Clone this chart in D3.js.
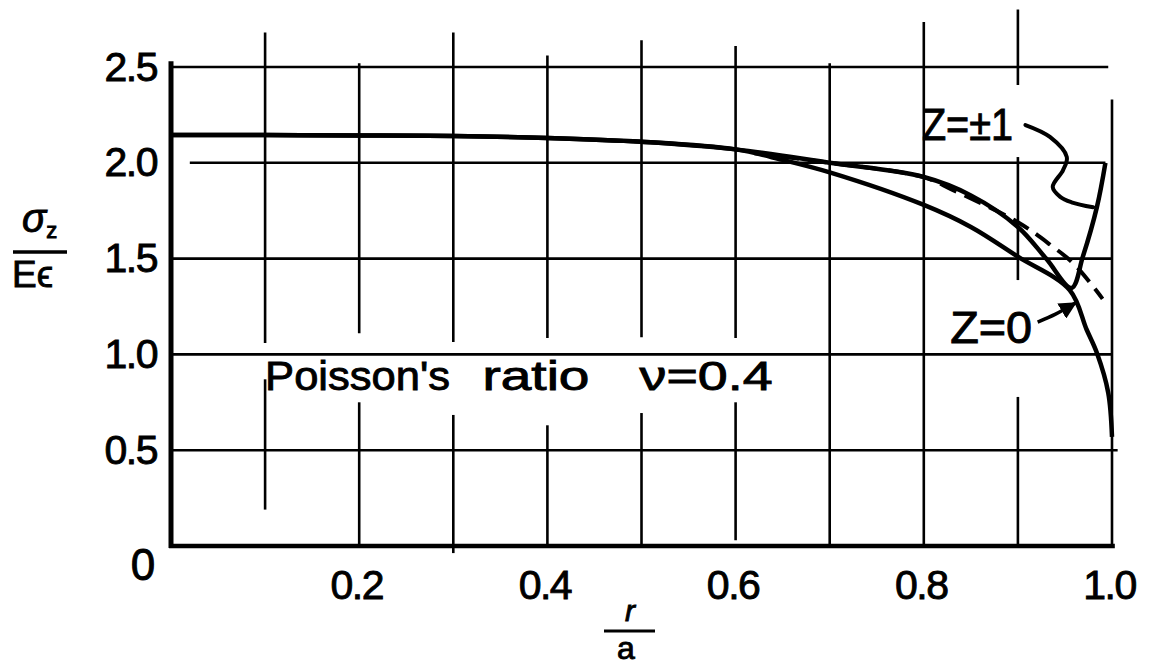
<!DOCTYPE html>
<html>
<head>
<meta charset="utf-8">
<script src="https://cdn.jsdelivr.net/npm/d3@7"></script>
<style>
  body { margin: 0; background: #fff; }
  svg { display: block; background: #fff; }
  text { font-family: "Liberation Sans", Arial, sans-serif; fill: #000; stroke: #000; stroke-width: 0.9px; }
</style>
</head>
<body>
<svg id="chart" width="1156" height="667"></svg>
<script>
// r/a positions and sigma_z/(E eps) values
const zOneR = [0, 0.1, 0.2, 0.3, 0.4, 0.5, 0.6, 0.7, 0.8, 0.85, 0.9, 0.93, 0.957, 0.969, 0.984, 0.993];
const zOneV = [2.145, 2.145, 2.143, 2.14, 2.13, 2.11, 2.07, 2.0, 1.926, 1.83, 1.665, 1.5, 1.347, 1.51, 1.77, 2.0];

const zZeroR = [0, 0.1, 0.2, 0.3, 0.4, 0.5, 0.6, 0.65, 0.7, 0.8, 0.85, 0.9, 0.955, 0.973, 0.984, 0.996, 1.0];
const zZeroV = [2.145, 2.145, 2.143, 2.14, 2.13, 2.11, 2.07, 2.015, 1.95, 1.78, 1.665, 1.51, 1.336, 1.13, 1.007, 0.80, 0.57];

const dashR = [0.62, 0.7, 0.8, 0.83, 0.9, 0.935, 0.96, 0.99];
const dashV = [2.05, 2.0, 1.925, 1.86, 1.69, 1.57, 1.47, 1.29];

const xTickVals = [0.2, 0.4, 0.6, 0.8, 1.0];
const yTickVals = [0.5, 1.0, 1.5, 2.0, 2.5];

// hand drawn grid: vertical lines at r, broken into pieces (value ranges)
const gridR = [0.1, 0.2, 0.3, 0.4, 0.5, 0.6, 0.7, 0.8, 0.9, 1.0];
const gridPieces = [
  [[2.68, 1.06], [0.87, 0.19]],
  [[2.52, 1.11], [0.75, 0]],
  [[2.68, 1.065], [0.684, -0.037]],
  [[2.56, 1.085], [0.63, 0]],
  [[2.64, 1.09], [0.694, -0.01]],
  [[2.61, 1.085], [0.75, 0.03]],
  [[2.52, 0]],
  [[2.735, 0]],
  [[2.8, 2.406], [2.03, 1.388], [0.778, 0]],
  [[2.33, 0]]
];
// horizontal lines at value, spanning r range
const hGridV = [0.5, 1.0, 1.5, 2.0, 2.5];
const hGridR = [[0, 1.006], [0, 1.0], [0, 1.0], [0.02, 0.993], [0, 0.996]];

// leader from "Z=±1" to its curve, and arrow for "Z=0"
const leadOneR = [0.908, 0.934, 0.952, 0.948, 0.937, 0.945, 0.957, 0.98];
const leadOneV = [2.197, 2.135, 2.03, 1.962, 1.874, 1.822, 1.794, 1.768];
const leadZeroR = [0.921, 0.94, 0.961];
const leadZeroV = [1.169, 1.21, 1.268];

const svg = d3.select("#chart");

const x = d3.scaleLinear().domain([0, 1]).range([171, 1112]);
const y = d3.scaleLinear().domain([0, 2.5]).range([546, 67]);

// grid
gridR.forEach((r, i) => {
  gridPieces[i].forEach(p => {
    svg.append("line")
      .attr("x1", x(r)).attr("x2", x(r))
      .attr("y1", y(p[0])).attr("y2", y(p[1]))
      .attr("stroke", "#000").attr("stroke-width", 2.6);
  });
});
hGridV.forEach((v, i) => {
  svg.append("line")
    .attr("x1", x(hGridR[i][0])).attr("x2", x(hGridR[i][1]))
    .attr("y1", y(v)).attr("y2", y(v))
    .attr("stroke", "#000").attr("stroke-width", 2.6);
});

// axes frame
svg.append("line")
  .attr("x1", x(0)).attr("x2", x(0))
  .attr("y1", y(2.53)).attr("y2", y(0) + 2)
  .attr("stroke", "#000").attr("stroke-width", 5);
svg.append("line")
  .attr("x1", x(0) - 2).attr("x2", x(1.003))
  .attr("y1", y(0)).attr("y2", y(0))
  .attr("stroke", "#000").attr("stroke-width", 4.5);

// curves
const line = d3.line()
  .x(d => x(d[0]))
  .y(d => y(d[1]))
  .curve(d3.curveCatmullRom.alpha(0.5));

svg.append("path")
  .datum(d3.zip(zZeroR, zZeroV))
  .attr("d", line)
  .attr("fill", "none").attr("stroke", "#000").attr("stroke-width", 4.5);

svg.append("path")
  .datum(d3.zip(zOneR, zOneV))
  .attr("d", line)
  .attr("fill", "none").attr("stroke", "#000").attr("stroke-width", 4.5)
  .attr("stroke-linejoin", "round");

svg.append("path")
  .datum(d3.zip(dashR, dashV))
  .attr("d", line)
  .attr("fill", "none").attr("stroke", "#000").attr("stroke-width", 4)
  .style("stroke-dasharray", "18, 9");

// leaders
svg.append("defs").append("marker")
  .attr("id", "arrow")
  .attr("viewBox", "0 0 10 10")
  .attr("refX", 9).attr("refY", 5)
  .attr("markerWidth", 5).attr("markerHeight", 5)
  .attr("orient", "auto")
  .append("path").attr("d", "M0,0 L10,5 L0,10 z").attr("fill", "#000");

svg.append("path")
  .datum(d3.zip(leadOneR, leadOneV))
  .attr("d", line)
  .attr("fill", "none").attr("stroke", "#000").attr("stroke-width", 4)
  .attr("stroke-linecap", "round");

svg.append("path")
  .datum(d3.zip(leadZeroR, leadZeroV))
  .attr("d", line)
  .attr("fill", "none").attr("stroke", "#000").attr("stroke-width", 3.5)
  .attr("marker-end", "url(#arrow)");

// tick labels
svg.append("g")
  .attr("transform", "translate(0," + y(0) + ")")
  .call(d3.axisBottom(x).tickValues(xTickVals).tickSize(0).tickPadding(24).tickFormat(d3.format(".1f")))
  .call(g => g.select(".domain").remove())
  .selectAll("text")
  .attr("font-size", 41).attr("font-family", "Liberation Sans, Arial, sans-serif")
  .attr("letter-spacing", -1.5).attr("dx", -3);

svg.append("g")
  .attr("transform", "translate(" + x(0) + ",0)")
  .call(d3.axisLeft(y).tickValues(yTickVals).tickSize(0).tickPadding(14).tickFormat(d3.format(".1f")))
  .call(g => g.select(".domain").remove())
  .selectAll("text")
  .attr("font-size", 41).attr("font-family", "Liberation Sans, Arial, sans-serif")
  .attr("letter-spacing", -1.5);

svg.append("text")
  .attr("x", x(0) - 28).attr("y", y(0) + 34)
  .attr("text-anchor", "middle").attr("font-size", 44)
  .text("0");

// annotations
svg.append("text").attr("x", x(0.1)).attr("y", y(0.815))
  .attr("font-size", 41).attr("textLength", 185).attr("lengthAdjust", "spacingAndGlyphs")
  .text("Poisson's");
svg.append("text").attr("x", x(0.331)).attr("y", y(0.815))
  .attr("font-size", 41).attr("textLength", 107).attr("lengthAdjust", "spacingAndGlyphs")
  .text("ratio");
svg.append("text").attr("x", x(0.498)).attr("y", y(0.815))
  .attr("font-size", 41).attr("textLength", 133).attr("lengthAdjust", "spacingAndGlyphs")
  .text("ν=0.4");

svg.append("text").attr("x", x(0.798)).attr("y", y(2.119))
  .attr("font-size", 44).attr("textLength", 91).attr("lengthAdjust", "spacingAndGlyphs")
  .text("Z=±1");
svg.append("text").attr("x", x(0.828)).attr("y", y(1.06))
  .attr("font-size", 44).attr("textLength", 82).attr("lengthAdjust", "spacingAndGlyphs")
  .text("Z=0");

// axis titles
const yt = svg.append("g");
yt.append("text").attr("x", 22).attr("y", 232).attr("font-size", 40).attr("font-style", "italic")
  .text("σ")
  .append("tspan").attr("font-size", 22).attr("dy", 6).attr("font-style", "normal").text("z");
yt.append("line").attr("x1", 13).attr("x2", 67).attr("y1", 252).attr("y2", 252)
  .attr("stroke", "#000").attr("stroke-width", 3.5);
yt.append("text").attr("x", 12).attr("y", 287).attr("font-size", 37).text("Eϵ");

const xt = svg.append("g");
xt.append("text").attr("x", 630).attr("y", 621).attr("text-anchor", "middle")
  .attr("font-size", 30).attr("font-style", "italic").text("r");
xt.append("line").attr("x1", 604).attr("x2", 655).attr("y1", 631).attr("y2", 631)
  .attr("stroke", "#000").attr("stroke-width", 3);
xt.append("text").attr("x", 626).attr("y", 659).attr("text-anchor", "middle")
  .attr("font-size", 32).text("a");
</script>
</body>
</html>
